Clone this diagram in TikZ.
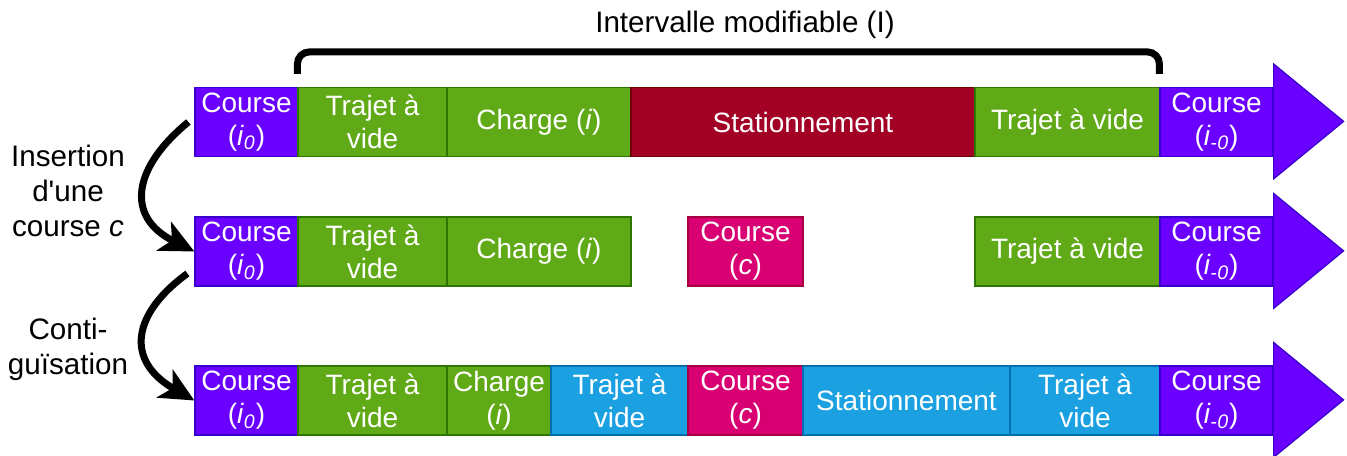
\documentclass[tikz,border=0pt]{standalone}
\usepackage{fontspec}
\setmainfont{Liberation Sans}
\usepackage{tikz}
\usetikzlibrary{arrows.meta}

\definecolor{violetc}{HTML}{6A00FF}
\definecolor{violetd}{HTML}{3700CC}
\definecolor{greenc}{HTML}{60A917}
\definecolor{greend}{HTML}{2D7600}
\definecolor{crimsonc}{HTML}{A20025}
\definecolor{crimsond}{HTML}{6F0000}
\definecolor{magentac}{HTML}{D80073}
\definecolor{magentad}{HTML}{A50040}
\definecolor{bluec}{HTML}{1BA1E2}
\definecolor{blued}{HTML}{006EAF}

\begin{document}
\begin{tikzpicture}[
  x=0.5pt, y=-0.5pt,
  seg/.style={draw, line width=0.6pt, text=white, align=center, inner sep=0pt,
    minimum height=34.5pt, font=\fontsize{14}{16.5}\selectfont},
  course/.style={seg, fill=violetc, draw=violetd},
  trajet/.style={seg, fill=greenc, draw=greend},
  stat/.style={seg, fill=crimsonc, draw=crimsond},
  cnew/.style={seg, fill=magentac, draw=magentad},
  bleu/.style={seg, fill=bluec, draw=blued},
  head/.style={fill=violetc, draw=violetd, line width=0.6pt},
  steparrow/.style={line width=3.5pt, -{Stealth[length=17pt,width=16pt,inset=4.5pt]}},
  lbl/.style={align=center, font=\fontsize{14.8}{17.5}\selectfont}
]
  \useasboundingbox (0,0) rectangle (1347,455);

  %% Row 1
  \node[course, minimum width=51.5pt] (r1a) at (246.5,122) {Course\\(\textit{i}\textsubscript{\textit{0}})};
  \node[trajet, minimum width=74.5pt] (r1b) at (372.5,122) {Trajet à\\vide};
  \node[trajet, minimum width=92pt] (r1c) at (539,122) {Charge (\textit{i})};
  \node[stat, minimum width=172pt] (r1d) at (803,122) {Stationnement};
  \node[trajet, minimum width=92.5pt] (r1e) at (1067.5,122) {Trajet à vide};
  \node[course, minimum width=56.5pt] (r1f) at (1216.5,122) {Course\\(\textit{i}\textsubscript{-\textit{0}})};
  \filldraw[head] (r1f.north east) -- ++(0,-23) -- ++(70,57.5) -- ++(-70,57.5) -- (r1f.south east);

  %% Row 2
  \node[course, minimum width=51.5pt] (r2a) at (246.5,251.5) {Course\\(\textit{i}\textsubscript{\textit{0}})};
  \node[trajet, minimum width=74.5pt] (r2b) at (372.5,251.5) {Trajet à\\vide};
  \node[trajet, minimum width=92pt] (r2c) at (539,251.5) {Charge (\textit{i})};
  \node[cnew, minimum width=57.5pt] (r2d) at (745.5,251.5) {Course\\(\textit{c})};
  \node[trajet, minimum width=92.5pt] (r2e) at (1067.5,251.5) {Trajet à vide};
  \node[course, minimum width=56.5pt] (r2f) at (1216.5,251.5) {Course\\(\textit{i}\textsubscript{-\textit{0}})};
  \filldraw[head] (r2f.north east) -- ++(0,-23) -- ++(70,57.5) -- ++(-70,57.5) -- (r2f.south east);

  %% Row 3
  \node[course, minimum width=51.5pt] (r3a) at (246.5,400.5) {Course\\(\textit{i}\textsubscript{\textit{0}})};
  \node[trajet, minimum width=74.5pt] (r3b) at (372.5,400.5) {Trajet à\\vide};
  \node[trajet, minimum width=52pt] (r3c) at (499,400.5) {Charge\\(\textit{i})};
  \node[bleu, minimum width=68.5pt] (r3d) at (619.5,400.5) {Trajet à\\vide};
  \node[cnew, minimum width=57.5pt] (r3e) at (745.5,400.5) {Course\\(\textit{c})};
  \node[bleu, minimum width=103.5pt] (r3f) at (906.5,400.5) {Stationnement};
  \node[bleu, minimum width=75pt] (r3g) at (1085,400.5) {Trajet à\\vide};
  \node[course, minimum width=56.5pt] (r3h) at (1216.5,400.5) {Course\\(\textit{i}\textsubscript{-\textit{0}})};
  \filldraw[head] (r3h.north east) -- ++(0,-23) -- ++(70,57.5) -- ++(-70,57.5) -- (r3h.south east);

  %% Bracket
  \draw[line width=3.5pt, rounded corners=6pt] ([yshift=6.5pt]r1b.north west) -- ++(0,-22) -| ([yshift=6.5pt]r1f.north west);
  \node[lbl] (titre) at (745,25) {Intervalle modifiable (I)};

  %% Steps
  \node[lbl] (ins) at (68,191) {Insertion\\d\textquotesingle une\\course \textit{c}};
  \node[lbl] (cont) at (68,349) {Conti-\\guïsation};
  \draw[steparrow] ([xshift=-3pt]r1a.west) .. controls +(-55,45) and +(-70,-35) .. (r2a.west);
  \draw[steparrow] ([xshift=-3.5pt,yshift=-11pt]r2a.west) .. controls +(-55,40) and +(-70,-40) .. (r3a.west);
\end{tikzpicture}
\end{document}
